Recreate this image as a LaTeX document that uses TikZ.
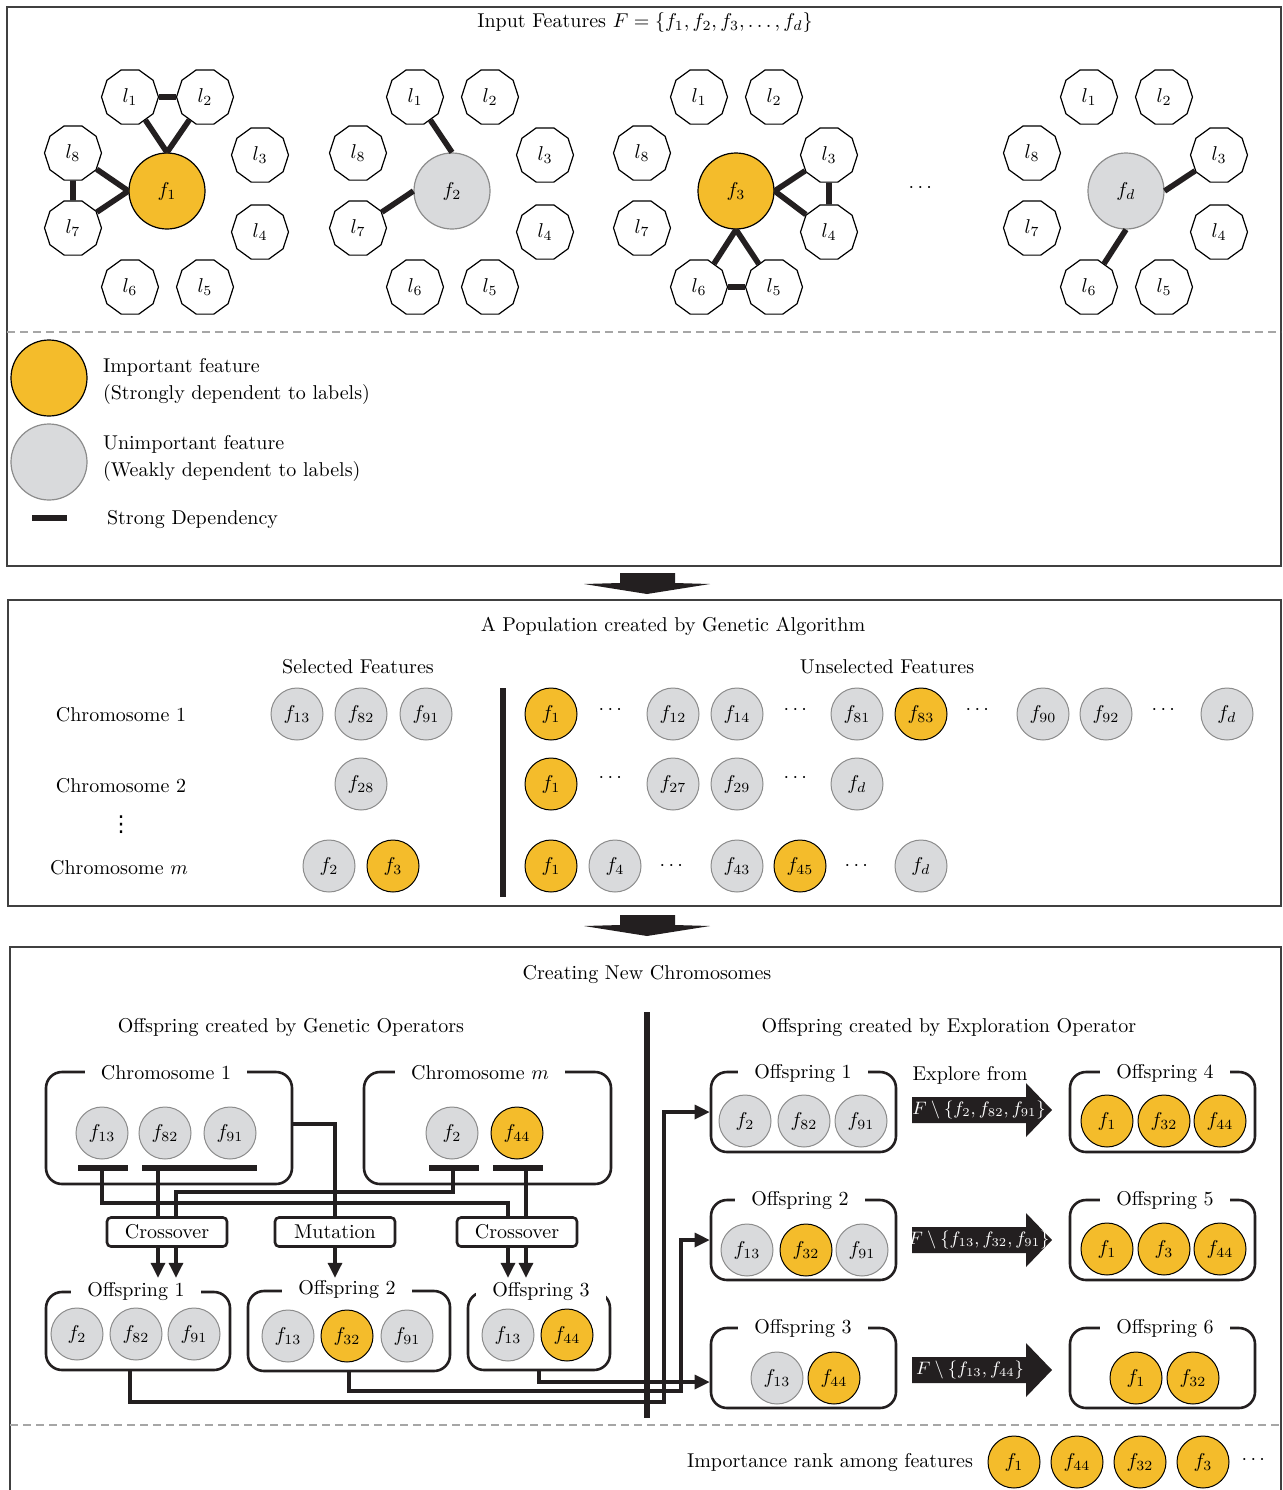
\documentclass[tikz,border=0pt]{standalone}
\usepackage{amsmath,amssymb}
\usepackage{fontspec}
\usepackage{tikz}
\usetikzlibrary{positioning,fit,arrows.meta,shapes.geometric}

\newfontfamily\dotsfont{DejaVu Sans}

\definecolor{featgold}{HTML}{F4BC2B}
\definecolor{featgray}{HTML}{D9DADC}
\definecolor{rimgray}{HTML}{8C8C8C}
\definecolor{ink}{HTML}{231F20}

\begin{document}
\begin{tikzpicture}[
x=0.5pt, y=-0.5pt,
font=\fontsize{10}{13.5}\selectfont,
lab/.style={regular polygon, regular polygon sides=10, draw=black, fill=white, line width=0.6pt, minimum size=28.5pt, inner sep=0pt},
big/.style={circle, minimum size=38pt, inner sep=0pt, line width=0.6pt},
imp/.style={circle, draw=black, fill=featgold, minimum size=26pt, inner sep=0pt, line width=0.5pt},
unimp/.style={circle, draw=rimgray, fill=featgray, minimum size=26pt, inner sep=0pt, line width=0.5pt},
dep/.style={draw=ink, line width=2.8pt},
panel/.style={draw=black!75, line width=0.7pt},
split/.style={draw=black!35, line width=0.6pt, dash pattern=on 4pt off 2.5pt},
sep/.style={draw=ink, line width=3.4pt},
grpbox/.style={draw=ink, line width=1.3pt, rounded corners=8pt, inner sep=0pt},
grptitle/.style={fill=white, inner xsep=8pt, inner ysep=1pt},
op/.style={draw=ink, line width=1.3pt, rounded corners=2pt, minimum width=60pt, minimum height=14.5pt, inner sep=0pt},
bar/.style={draw=ink, line width=3pt},
wire/.style={draw=ink, line width=1.6pt},
arr/.style={wire, -{Triangle[length=7.5pt,width=7pt]}},
bigarrow/.style={fill=ink}]

\useasboundingbox (0,0) rectangle (1282,1490);

% ---- input features ----
\draw[panel] (7,7) rectangle (1281,566);
\node (intitle) at (645,22) {Input Features $F = \{f_1, f_2, f_3, \dots, f_d\}$};

\foreach \g/\cx in {a/167, b/452, c/736, e/1126}{
  \foreach \i/\dx/\dy in {1/-37/-94, 2/38/-94, 3/93/-36, 4/93/41, 5/38/96, 6/-37/96, 7/-94/37, 8/-94/-38}
    \node[lab] (\g\i) at (\cx+\dx,191+\dy) {$l_{\i}$};
}

\node[big, fill=featgold, draw=black] (fa) at (167,191) {$f_1$};
\node[big, fill=featgray, draw=rimgray] (fb) at (452,191) {$f_2$};
\node[big, fill=featgold, draw=black] (fc) at (736,191) {$f_3$};
\node[big, fill=featgray, draw=rimgray] (fe) at (1126,191) {$f_d$};
\node (gdots) at (922,188) {$\cdots$};

\draw[dep] (a1) -- (a2);
\draw[dep] (a1) -- (fa.north);
\draw[dep] (a2) -- (fa.north);
\draw[dep] (a8) -- (a7);
\draw[dep] (a8) -- (fa.west);
\draw[dep] (a7) -- (fa.west);

\draw[dep] (b1) -- (fb.north);
\draw[dep] (b7) -- (fb.west);

\draw[dep] (c3) -- (fc.east);
\draw[dep] (c4) -- (fc.east);
\draw[dep] (c3) -- (c4);
\draw[dep] (c6) -- (fc.south);
\draw[dep] (c5) -- (fc.south);
\draw[dep] (c6) -- (c5);

\draw[dep] (e3) -- (fe.east);
\draw[dep] (e6) -- (fe.south);

\draw[split] (7,332) -- (1281,332);

% legend
\node[big, fill=featgold, draw=black] (legimp) at (49,378) {};
\node[big, fill=featgray, draw=rimgray] (legunimp) at (49,462) {};
\node[anchor=west, align=left] (legimptxt) at (96,381) {Important feature\\(Strongly dependent to labels)};
\node[anchor=west, align=left] (legunimptxt) at (96,458) {Unimportant feature\\(Weakly dependent to labels)};
\draw[dep, line width=3.4pt] (32,518) -- (67,518);
\node[anchor=west] (legdep) at (100,519) {Strong Dependency};

% arrow down
\fill[bigarrow] (620,573) -- (675,573) -- (675,583) -- (710,584) -- (647,594) -- (584,584) -- (620,583) -- cycle;

% ---- population ----
\draw[panel] (8,600) rectangle (1281,906);
\node (poptitle) at (673,626) {A Population created by Genetic Algorithm};
\node (seltitle) at (358,667) {Selected Features};
\node (unseltitle) at (887,667) {Unselected Features};

\node (row1) at (121,715) {Chromosome 1};
\node[inner sep=1pt] (row2) at (121,786) {Chromosome 2};
\node[inner sep=0pt, font=\dotsfont\fontsize{11}{11}\selectfont] (rowdots) at (121,825) {⋮};
\node[inner sep=1pt] (rowm) at (119,868) {Chromosome $m$};

\foreach \n/\x/\s in {13/297/unimp, 82/361/unimp, 91/426/unimp, 1/551/imp, 12/673/unimp, 14/737/unimp, 81/857/unimp, 83/921/imp, 90/1043/unimp, 92/1106/unimp, d/1227/unimp}
  \node[\s] (r1f\n) at (\x,714) {$f_{\n}$};
\foreach \x in {612,797,979,1165}
  \node (r1d\x) at (\x,710) {$\cdots$};

\foreach \n/\x/\s in {28/361/unimp, 1/551/imp, 27/673/unimp, 29/737/unimp, d/857/unimp}
  \node[\s] (r2f\n) at (\x,784) {$f_{\n}$};
\foreach \x in {612,797}
  \node (r2d\x) at (\x,778) {$\cdots$};

\foreach \n/\x/\s in {2/329/unimp, 3/393/imp, 1/551/imp, 4/615/unimp, 43/737/unimp, 45/800/imp, d/921/unimp}
  \node[\s] (r3f\n) at (\x,866) {$f_{\n}$};
\foreach \x in {673,858}
  \node (r3d\x) at (\x,866) {$\cdots$};

\draw[sep] (503,688) -- (503,897);

% arrow down
\fill[bigarrow] (620,915) -- (675,915) -- (675,925) -- (710,926) -- (647,936) -- (584,926) -- (620,925) -- cycle;

% ---- new chromosomes ----
\draw[panel] (10,1490) -- (10,947) -- (1281,947) -- (1281,1490);
\node (newtitle) at (647,974) {Creating New Chromosomes};
\node (gentitle) at (291,1027) {Offspring created by Genetic Operators};
\node (exptitle) at (949,1027) {Offspring created by Exploration Operator};

% group boxes
\node[grpbox, fit={(46,1072) (292,1184)}] (chr1) {};
\node[grpbox, fit={(364,1072) (611,1184)}] (chrm) {};
\node[grpbox, fit={(46,1292) (230,1370)}] (os1) {};
\node[grpbox, fit={(248,1291) (450,1371)}] (os2) {};
\node[grpbox, fit={(468,1292) (610,1370)}] (os3) {};
\node[grpbox, fit={(711,1072) (896,1152)}] (or1) {};
\node[grpbox, fit={(711,1200) (896,1280)}] (or2) {};
\node[grpbox, fit={(711,1328) (896,1408)}] (or3) {};
\node[grpbox, fit={(1070,1072) (1255,1152)}] (or4) {};
\node[grpbox, fit={(1070,1200) (1255,1280)}] (or5) {};
\node[grpbox, fit={(1070,1328) (1255,1408)}] (or6) {};

\node[grptitle] (chr1t) at (166,1073) {Chromosome 1};
\node[grptitle] (chrmt) at (480,1073) {Chromosome $m$};
\node[grptitle] (os1t) at (136,1291) {Offspring 1};
\node[grptitle] (os2t) at (347,1289) {Offspring 2};
\node[grptitle] (os3t) at (541,1291) {Offspring 3};
\node[grptitle] (or1t) at (803,1073) {Offspring 1};
\node[grptitle] (or2t) at (800,1200) {Offspring 2};
\node[grptitle] (or3t) at (803,1328) {Offspring 3};
\node[grptitle] (or4t) at (1165,1073) {Offspring 4};
\node[grptitle] (or5t) at (1165,1200) {Offspring 5};
\node[grptitle] (or6t) at (1165,1328) {Offspring 6};

\foreach \n/\x/\s in {13/102/unimp, 82/165/unimp, 91/230/unimp}
  \node[\s] (chr1f\n) at (\x,1133) {$f_{\n}$};
\foreach \n/\x/\s in {2/452/unimp, 44/517/imp}
  \node[\s] (chrmf\n) at (\x,1133) {$f_{\n}$};
\foreach \n/\x/\s in {2/77/unimp, 82/136/unimp, 91/194/unimp}
  \node[\s] (os1f\n) at (\x,1334) {$f_{\n}$};
\foreach \n/\x/\s in {13/288/unimp, 32/347/imp, 91/407/unimp}
  \node[\s] (os2f\n) at (\x,1336) {$f_{\n}$};
\foreach \n/\x/\s in {13/508/unimp, 44/567/imp}
  \node[\s] (os3f\n) at (\x,1335) {$f_{\n}$};
\foreach \n/\x/\s in {2/745/unimp, 82/804/unimp, 91/861/unimp}
  \node[\s] (or1f\n) at (\x,1121) {$f_{\n}$};
\foreach \n/\x/\s in {13/747/unimp, 32/806/imp, 91/862/unimp}
  \node[\s] (or2f\n) at (\x,1250) {$f_{\n}$};
\foreach \n/\x/\s in {13/777/unimp, 44/834/imp}
  \node[\s] (or3f\n) at (\x,1378) {$f_{\n}$};
\foreach \n/\x in {1/1107, 32/1164, 44/1220}
  \node[imp] (or4f\n) at (\x,1121) {$f_{\n}$};
\foreach \n/\x in {1/1107, 3/1164, 44/1220}
  \node[imp] (or5f\n) at (\x,1249) {$f_{\n}$};
\foreach \n/\x in {1/1136, 32/1193}
  \node[imp] (or6f\n) at (\x,1378) {$f_{\n}$};

% operators
\node[op] (xo1) at (167,1232) {Crossover};
\node[op] (mut) at (335,1232) {Mutation};
\node[op] (xo2) at (517,1232) {Crossover};

\draw[bar] (78,1168) -- (128,1168);
\draw[bar] (142,1168) -- (257,1168);
\draw[bar] (429,1168) -- (479,1168);
\draw[bar] (493,1168) -- (543,1168);
\coordinate (b1) at (102,1168);
\coordinate (b2) at (158,1168);
\coordinate (b3) at (453,1168);
\coordinate (b4) at (526,1168);

\draw[wire] (b1) -- (102,1203) -| ([xshift=-4.5pt]xo2.north);
\draw[wire] (b2) -- ([xshift=-4.5pt]xo1.north);
\draw[wire] (b3) -- (453,1192) -| ([xshift=4.5pt]xo1.north);
\draw[wire] (b4) -- ([xshift=4.5pt]xo2.north);
\draw[wire] ([yshift=2pt]chr1.east) -| (mut.north);

\draw[arr] ([xshift=-4.5pt]xo1.south) -- ++(0,30);
\draw[arr] ([xshift=4.5pt]xo1.south) -- ++(0,30);
\draw[arr] (mut.south) -- ++(0,30);
\draw[arr] ([xshift=-4.5pt]xo2.south) -- ++(0,30);
\draw[arr] ([xshift=4.5pt]xo2.south) -- ++(0,30);

\draw[arr] ([xshift=-4pt]os1.south) |- (664,1402) |- (or1.west);
\draw[arr] (os2.south) |- (681,1391) |- (or2.west);
\draw[arr] (os3.south) |- ([yshift=-7pt]or3.west);

\draw[sep] (647,1012) -- (647,1418);

% exploration arrows
\foreach \y in {1110,1240,1370}
  \fill[bigarrow] (912,\y-13) -- (1026,\y-13) -- (1026,\y-27) -- (1052,\y) -- (1026,\y+27) -- (1026,\y+13) -- (912,\y+13) -- cycle;
\node (explore) at (970,1075) {Explore from};
\node[text=white, font=\small] (x1) at (979,1110) {$F\setminus\{f_2, f_{82}, f_{91}\}$};
\node[text=white, font=\small] (x2) at (979,1240) {$F\setminus\{f_{13}, f_{32}, f_{91}\}$};
\node[text=white, font=\small] (x3) at (970,1370) {$F\setminus\{f_{13}, f_{44}\}$};

% rank
\draw[split] (10,1425) -- (1281,1425);
\node (ranktxt) at (830,1462) {Importance rank among features};
\foreach \n/\x in {1/1014, 44/1077, 32/1140, 3/1203}
  \node[imp] (rk\n) at (\x,1462) {$f_{\n}$};
\node (rkdots) at (1255,1460) {$\cdots$};
\end{tikzpicture}
\end{document}
